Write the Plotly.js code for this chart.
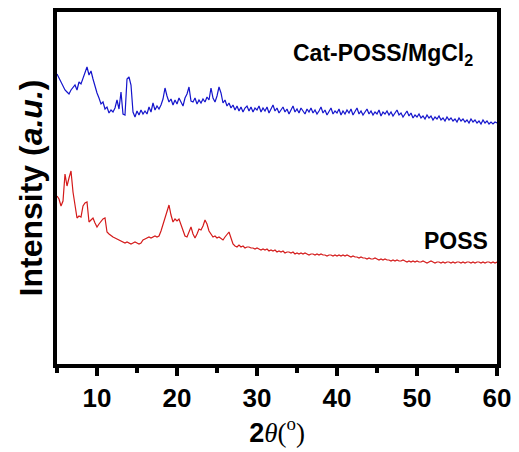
<!DOCTYPE html>
<html>
<head>
<meta charset="utf-8">
<script src="https://cdn.plot.ly/plotly-3.0.1.min.js"></script>
<style>html,body{margin:0;padding:0;background:#fff;}#chart{width:519px;height:452px;}</style>
</head>
<body>
<div id="chart"></div>
<script>
// 2theta sampling: start and step (degrees)
var twoThetaStart = 5;
var twoThetaStep = 0.25;

// Cat-POSS/MgCl2 intensity (a.u.), 5.00 .. 60.00 deg
var catPossMgCl2 = [
  290,286,282,279,274,272,270,274,276,279,274,282,280,286,290,297,289,293,285,277,
  271,266,260,262,255,257,251,254,252,256,264,255,272,250,249,285,287,279,252,247,
  253,249,254,250,253,250,257,252,261,254,258,255,259,265,276,268,262,265,259,264,
  260,266,261,258,266,270,277,263,262,266,260,264,261,265,262,267,264,276,266,262,
  268,277,271,261,264,258,261,256,259,254,258,253,257,252,256,258,253,257,252,256,
  254,258,252,256,253,257,251,255,259,253,256,251,254,257,252,255,250,254,258,252,
  255,251,256,253,250,255,252,256,251,254,250,253,257,251,254,249,253,256,250,253,
  251,255,249,253,250,254,251,255,249,252,256,250,253,249,252,255,250,253,249,252,
  250,254,248,252,250,253,249,252,248,251,254,249,251,247,250,253,248,251,246,249,
  247,250,246,248,245,249,246,248,244,247,245,248,244,246,243,247,244,246,243,245,
  242,246,243,245,242,244,241,245,242,244,241,243,240,244,241,243,240,242,240,242,
  241
];

// POSS intensity (a.u.), 5.00 .. 60.00 deg
var poss = [
  168,165,158,163,190,178,186,193,172,158,146,148,147,158,161,162,142,144,146,141,
  137,140,143,145,146,132,130,128,127,126,125,124,123,122,121,122,121,120,121,122,
  121,120,121,124,125,126,127,126,127,128,127,128,133,140,147,153,159,149,142,145,
  143,145,140,133,128,127,133,137,130,126,130,135,134,138,144,140,133,130,127,128,
  126,127,125,124,127,130,132,126,120,118,117,119,117,118,116,117,117,116,116,115,
  116,115,114,115,114,115,113,114,113,114,112,113,112,113,111,112,112,111,112,110,
  111,110,111,110,111,110,109,110,110,109,110,109,110,109,109,108,109,109,108,109,
  108,109,108,109,108,109,108,107,108,107,107,106,107,106,106,105,106,105,105,106,
  105,104,105,104,105,104,104,103,104,103,104,103,103,104,103,102,103,102,103,102,
  103,102,102,103,102,101,102,103,102,101,102,102,101,102,101,102,102,101,102,101,
  102,102,101,102,101,102,102,101,102,101,102,102,101,102,101,102,102,101,102,101,
  102
];

var seriesNames = ["Cat-POSS/MgCl<sub>2</sub>", "POSS"];
var xTickVals = [10, 20, 30, 40, 50, 60];
var xTickText = ["10", "20", "30", "40", "50", "60"];

var font = "'Liberation Sans', Arial, sans-serif";

var traces = [
  {
    type: "scatter", mode: "lines", name: seriesNames[0],
    x0: twoThetaStart, dx: twoThetaStep, y: catPossMgCl2,
    line: {color: "#1414cc", width: 1.2}
  },
  {
    type: "scatter", mode: "lines", name: seriesNames[1],
    x0: twoThetaStart, dx: twoThetaStep, y: poss,
    line: {color: "#d41a1a", width: 1.2}
  }
];

var layout = {
  width: 519, height: 452,
  margin: {l: 57, r: 22, t: 12, b: 88},
  paper_bgcolor: "#fff", plot_bgcolor: "#fff",
  showlegend: false,
  font: {family: font, color: "#000"},
  xaxis: {
    range: [5, 60],
    showline: true, linewidth: 4, linecolor: "#000", mirror: true,
    showgrid: false, zeroline: false,
    ticks: "outside", ticklen: 8, tickwidth: 4, tickcolor: "#000",
    tickvals: xTickVals, ticktext: xTickText,
    tickfont: {family: font, size: 26, weight: "bold", color: "#000"},
    minor: {dtick: 5, tick0: 5, ticks: "outside", ticklen: 5, tickwidth: 4, tickcolor: "#000", showgrid: false},
    title: {
      text: "<b>2</b><span style=\"font-family:'Liberation Serif',serif\"><i>θ</i>(<sup>o</sup>)</span>",
      font: {family: font, size: 27, color: "#000"},
      standoff: 4
    }
  },
  yaxis: {
    range: [0, 352],
    showline: true, linewidth: 4, linecolor: "#000", mirror: true,
    showgrid: false, zeroline: false,
    ticks: "", showticklabels: false,
    title: {
      text: "<b>Intensity (<i>a.u.</i>)</b>",
      font: {family: font, size: 32, color: "#000"},
      standoff: 2
    }
  },
  annotations: [
    {
      xref: "paper", yref: "paper", x: 0.95, y: 0.878,
      xanchor: "right", yanchor: "middle", showarrow: false,
      text: "<b>" + seriesNames[0] + "</b>",
      font: {family: font, size: 23, color: "#000"}
    },
    {
      xref: "paper", yref: "paper", x: 0.984, y: 0.349,
      xanchor: "right", yanchor: "middle", showarrow: false,
      text: "<b>" + seriesNames[1] + "</b>",
      font: {family: font, size: 23, color: "#000"}
    }
  ]
};

Plotly.newPlot("chart", traces, layout, {displayModeBar: false, staticPlot: true});
</script>
</body>
</html>
